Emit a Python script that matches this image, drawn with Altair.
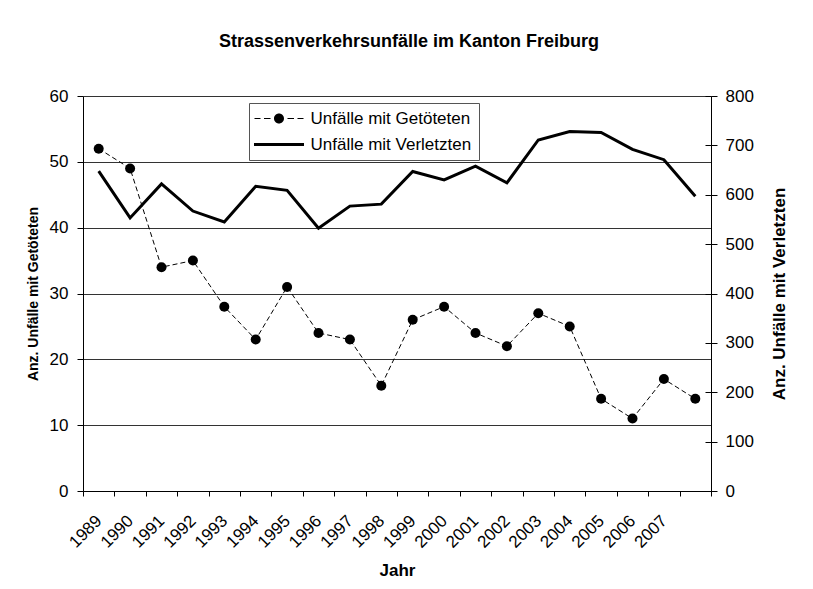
import altair as alt
import pandas as pd

# ---- data ----
jahre = ["1989", "1990", "1991", "1992", "1993", "1994", "1995", "1996", "1997", "1998",
         "1999", "2000", "2001", "2002", "2003", "2004", "2005", "2006", "2007", "2008"]
getoetete = [52, 49, 34, 35, 28, 23, 31, 24, 23, 16, 26, 28, 24, 22, 27, 25, 14, 11, 17, 14]
verletzte = [648, 553, 622, 567, 545, 617, 609, 532, 577, 581,
             647, 630, 658, 624, 711, 728, 726, 692, 671, 597]
serien = ["Unfälle mit Getöteten", "Unfälle mit Verletzten"]
left_ticks = [0, 10, 20, 30, 40, 50, 60]
right_ticks = [0, 100, 200, 300, 400, 500, 600, 700, 800]

df = pd.DataFrame({"Jahr": jahre, "Getoetete": getoetete, "Verletzte": verletzte})
leg_df = pd.DataFrame({"Serie": serien})

FONT = "Liberation Sans"

# legend symbols: dashed line with dot / thick solid line (custom SVG paths)
sym_dash_dot = ("M-4.9,-0.1H-3.7V0.1H-4.9Z M-3,-0.1H-1.7V0.1H-3Z "
                "M1.7,-0.1H3V0.1H1.7Z M3.7,-0.1H4.9V0.1H3.7Z "
                "M-1,0A1,1,0,1,1,1,0A1,1,0,1,1,-1,0Z")
sym_solid = "M-5,-0.3H5V0.3H-5Z"

x_enc = alt.X(
    "Jahr:O", sort=jahre,
    scale=alt.Scale(type="band", paddingInner=0, paddingOuter=0),
    axis=alt.Axis(title="Jahr", labelAngle=-45, labelAlign="right", labelBaseline="middle",
                  labelPadding=22, tickSize=5, tickBand="extent",
                  labelExpr="datum.value == '2008' ? '' : datum.label",
                  titleFontSize=17, titleFontWeight="bold", titlePadding=12,
                  labelFontSize=17, domainColor="black", tickColor="black",
                  labelColor="black", titleColor="black", grid=False),
)

y_left = alt.Y(
    "Getoetete:Q", scale=alt.Scale(domain=[0, 60], nice=False),
    axis=alt.Axis(orient="left", values=left_ticks, title="Anz. Unfälle mit Getöteten",
                  titleFontSize=14, titleFontWeight="bold", titlePadding=9,
                  labelFontSize=17, labelPadding=9, tickSize=6, grid=True,
                  gridColor="#333333", gridWidth=1, domainColor="black",
                  tickColor="black", labelColor="black", titleColor="black"),
)

y_right = alt.Y(
    "Verletzte:Q", scale=alt.Scale(domain=[0, 800], nice=False),
    axis=alt.Axis(orient="right", values=right_ticks, title="Anz. Unfälle mit Verletzten",
                  titleAngle=270, titleFontSize=17, titleFontWeight="bold", titlePadding=35,
                  labelFontSize=17, labelPadding=8, tickSize=6, grid=False,
                  domainColor="black", tickColor="black", labelColor="black",
                  titleColor="black"),
)

y_right_inner = alt.Y(
    "Verletzte:Q", scale=alt.Scale(domain=[0, 800], nice=False),
    axis=alt.Axis(orient="right", values=right_ticks, offset=-6, tickSize=6, labels=False,
                  domain=False, grid=False, title=None, tickColor="black"),
)

left_line = alt.Chart(df).mark_line(color="black", strokeWidth=1, strokeDash=[5, 3]).encode(
    x=x_enc, y=y_left)
left_pts = alt.Chart(df).mark_point(filled=True, color="black", size=100, opacity=1).encode(
    x=x_enc, y=y_left)
left = alt.layer(left_line, left_pts)

right_line = alt.Chart(df).mark_line(color="black", strokeWidth=3).encode(x=x_enc, y=y_right)
right_inner = alt.Chart(df).mark_line(opacity=0).encode(x=x_enc, y=y_right_inner)

legend_layer = alt.Chart(leg_df).mark_point(filled=True, color="black", opacity=1).encode(
    shape=alt.Shape(
        "Serie:N",
        scale=alt.Scale(domain=serien, range=[sym_dash_dot, sym_solid]),
        legend=alt.Legend(title=None, orient="none", legendX=166, legendY=7,
                          direction="vertical", padding=7, rowPadding=8,
                          symbolSize=100, symbolOffset=14.5, labelOffset=23,
                          labelFontSize=17, labelFont=FONT, labelColor="black",
                          labelLimit=400, strokeColor="#555555", fillColor="white",
                          symbolStrokeWidth=0, symbolOpacity=1),
    )
).transform_filter("false")

chart = alt.layer(left, right_line, right_inner, legend_layer).resolve_scale(
    y="independent"
).properties(
    width=628, height=395,
    padding={"left": 18, "top": 25, "right": 5, "bottom": 3},
    title=alt.TitleParams("Strassenverkehrsunfälle im Kanton Freiburg", fontSize=18,
                          fontWeight="bold", font=FONT, offset=36, anchor="middle",
                          dx=12, color="black"),
).configure(font=FONT).configure_view(strokeWidth=0)

chart.save("out.html", embed_options={"renderer": "svg", "actions": False})
